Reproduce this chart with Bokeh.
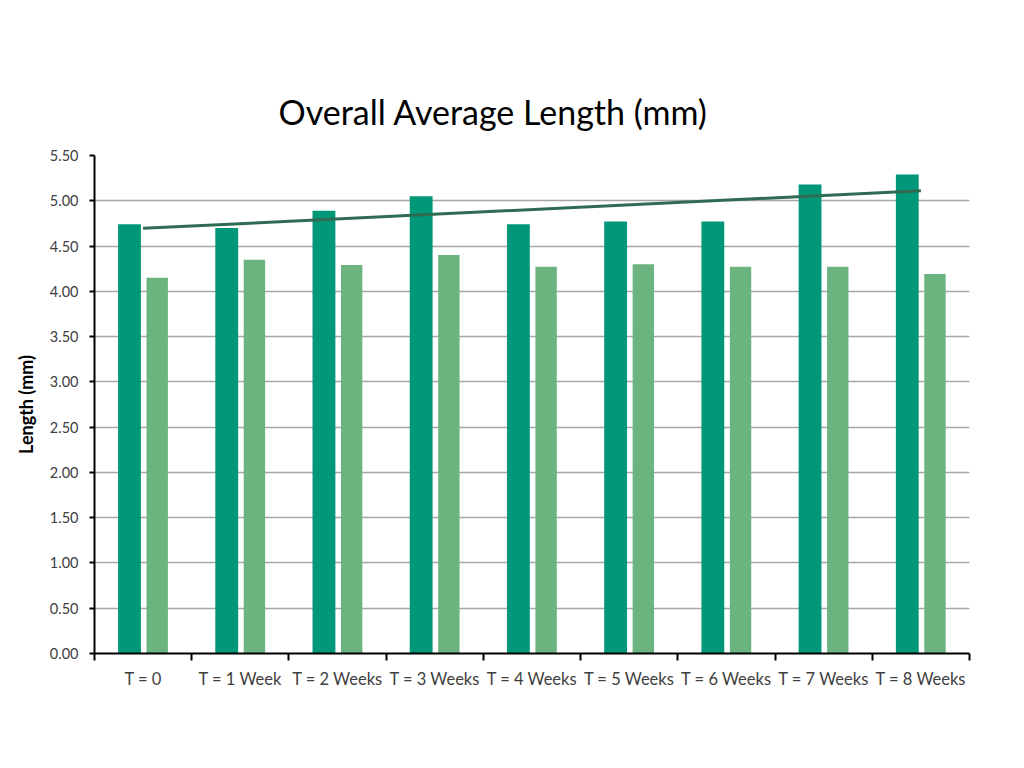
from bokeh.plotting import figure
from bokeh.models import FixedTicker, NumeralTickFormatter, Range1d, ColumnDataSource
from bokeh.embed import file_html
from bokeh.resources import INLINE
import numpy as np

categories = ["T = 0", "T = 1 Week", "T = 2 Weeks", "T = 3 Weeks", "T = 4 Weeks",
              "T = 5 Weeks", "T = 6 Weeks", "T = 7 Weeks", "T = 8 Weeks"]
series_a = [4.74, 4.70, 4.89, 5.05, 4.74, 4.77, 4.77, 5.18, 5.29]
series_b = [4.15, 4.35, 4.29, 4.40, 4.27, 4.30, 4.27, 4.27, 4.19]
y_ticks = [0.0, 0.5, 1.0, 1.5, 2.0, 2.5, 3.0, 3.5, 4.0, 4.5, 5.0, 5.5]

n = len(categories)
idx = np.arange(n)
centers = idx + 0.5

# linear trendline of series_a
slope, intercept = np.polyfit(idx, np.array(series_a), 1)
trend_y = [intercept + slope * i for i in (0, n - 1)]
trend_x = [centers[0], centers[-1]]

p = figure(width=1008, height=753, output_backend="svg", toolbar_location=None,
           x_range=Range1d(0, n), y_range=Range1d(0, 5.5),
           min_border_left=94, min_border_right=39, min_border_top=155, min_border_bottom=100,
           title="Overall Average Length (mm)")
p.outline_line_color = None
p.title.align = "left"
p.title.text_font = "Lato"
p.title.text_font_size = "34px"
p.title.text_font_style = "normal"
p.title.text_color = "#000000"
p.title.standoff = 47
p.title.offset = 184

src_a = ColumnDataSource(dict(x=centers - 0.14, top=series_a))
src_b = ColumnDataSource(dict(x=centers + 0.145, top=series_b))
p.vbar(x="x", top="top", width=0.235, bottom=0, source=src_a,
       fill_color="#009879", line_color=None)
p.vbar(x="x", top="top", width=0.22, bottom=0, source=src_b,
       fill_color="#6bb37f", line_color=None)
p.line(trend_x, trend_y, line_color="#2f6b50", line_width=3)

# x axis
p.xaxis.ticker = FixedTicker(ticks=list(centers), minor_ticks=list(range(n + 1)))
p.xaxis.major_label_overrides = {float(c): cat for c, cat in zip(centers, categories)}
p.xaxis.major_tick_out = 0
p.xaxis.major_tick_in = 0
p.xaxis.minor_tick_out = 7
p.xaxis.minor_tick_in = 0
p.xaxis.minor_tick_line_color = "#000000"
p.xaxis.minor_tick_line_width = 2
p.xaxis.axis_line_color = "#000000"
p.xaxis.axis_line_width = 2
p.xaxis.major_label_text_font = "Lato"
p.xaxis.major_label_text_font_size = "16.5px"
p.xaxis.major_label_text_color = "#404040"
p.xaxis.major_label_standoff = 8
p.xgrid.grid_line_color = None

# y axis
p.yaxis.ticker = FixedTicker(ticks=y_ticks)
p.yaxis.formatter = NumeralTickFormatter(format="0.00")
p.yaxis.major_tick_out = 5
p.yaxis.major_tick_in = 0
p.yaxis.minor_tick_out = 0
p.yaxis.minor_tick_in = 0
p.yaxis.major_tick_line_color = "#000000"
p.yaxis.major_tick_line_width = 2
p.yaxis.axis_line_color = "#000000"
p.yaxis.axis_line_width = 2
p.yaxis.major_label_text_font = "Lato"
p.yaxis.major_label_text_font_size = "14.5px"
p.yaxis.major_label_text_color = "#404040"
p.yaxis.major_label_standoff = 11
p.yaxis.axis_label = "Length (mm)"
p.yaxis.axis_label_text_font = "Lato"
p.yaxis.axis_label_text_font_size = "18px"
p.yaxis.axis_label_text_font_style = "bold"
p.yaxis.axis_label_text_color = "#000000"
p.yaxis.axis_label_standoff = 10
p.ygrid.grid_line_color = "#a6a6a6"
p.ygrid.grid_line_width = 1.5

open("out.html", "w").write(file_html(p, INLINE))
